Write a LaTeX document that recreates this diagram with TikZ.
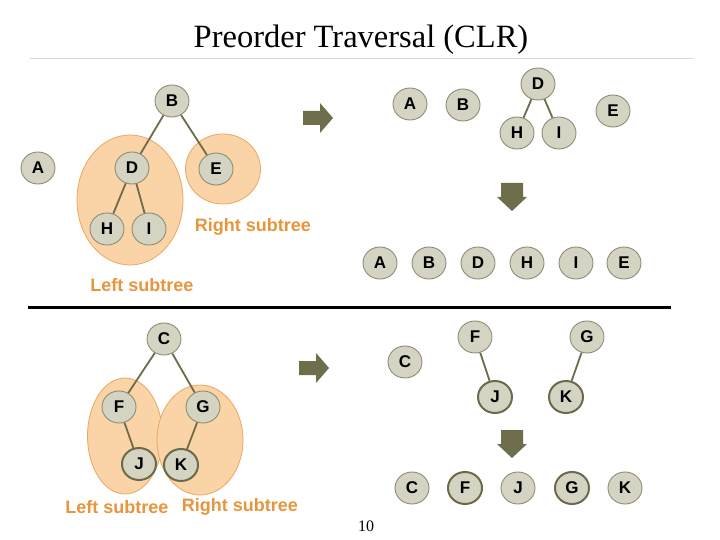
\documentclass[tikz,border=0pt]{standalone}
\usepackage{fontspec}
\setmainfont{Liberation Serif}
\newfontfamily\lblfont{Liberation Sans}
\usetikzlibrary{shapes.geometric}
\definecolor{nodefill}{HTML}{D5D4C3}
\definecolor{nodeedge}{HTML}{8C8C74}
\definecolor{thickedge}{HTML}{6B6B4C}
\definecolor{edgecol}{HTML}{6E6B4B}
\definecolor{arrowcol}{HTML}{6E6E4C}
\definecolor{subfill}{HTML}{FAD3A6}
\definecolor{subedge}{HTML}{E9A861}
\definecolor{subtext}{HTML}{E8953C}
\tikzset{
  circ/.style={ellipse, draw=nodeedge, fill=nodefill, line width=0.9pt,
    minimum width=34pt, minimum height=32pt, inner sep=0pt,
    font=\lblfont\fontsize{17}{18}\selectfont\bfseries},
  thk/.style={circ, draw=thickedge, line width=2pt},
  sub/.style={ellipse, draw=subedge, fill=subfill, line width=0.8pt, inner sep=0pt},
  sublbl/.style={text=subtext, font=\lblfont\fontsize{18}{20}\selectfont\bfseries, inner sep=0pt},
  edge/.style={draw=edgecol, line width=1.8pt},
  rarrow/.pic={\fill[arrowcol] (-15,-7) -- (2,-7) -- (2,-15) -- (15,0) -- (2,15) -- (2,7) -- (-15,7) -- cycle;},
  darrow/.pic={\fill[arrowcol] (-11,-14) -- (11,-14) -- (11,0) -- (15,0) -- (0,14) -- (-15,0) -- (-11,0) -- cycle;}
}
\begin{document}
\begin{tikzpicture}[x=1pt,y=-1pt]
\useasboundingbox[fill=white] (0,0) rectangle (720,540);
% title
\node[anchor=base, font=\fontsize{32.5}{36}\selectfont, inner sep=0pt] (title) at (361,48) {Preorder Traversal (CLR)};
\draw[black!15, line width=1pt] (30,59) -- (693,59);
\draw[line width=3pt] (28,307) -- (671,307);

% ---------- top-left tree ----------
\node[sub, minimum width=106pt, minimum height=130pt] (lsubA) at (130,200) {};
\node[sub, minimum width=75pt, minimum height=70pt] (rsubA) at (223,169) {};
\node[circ] (tB) at (172,101) {B};
\node[circ] (tA) at (38,168) {A};
\node[circ] (tD) at (132,168) {D};
\node[circ] (tE) at (216,169) {E};
\node[circ] (tH) at (107,229) {H};
\node[circ] (tI) at (149,229) {I};
\draw[edge] (tB) -- (tD);
\draw[edge] (tB) -- (tE);
\draw[edge] (tD) -- (tH);
\draw[edge] (tD) -- (tI);
\node[sublbl] (rlblA) at (253,227) {Right subtree};
\node[sublbl] (llblA) at (142,285) {Left subtree};

\pic at (318,118) {rarrow};

% ---------- top-right ----------
\node[circ] (uA) at (410,104) {A};
\node[circ] (uB) at (463,105) {B};
\node[circ] (uD) at (538,84) {D};
\node[circ] (uH) at (517,133) {H};
\node[circ] (uI) at (559,133) {I};
\node[circ] (uE) at (613,111) {E};
\draw[edge] (uD) -- (uH);
\draw[edge] (uD) -- (uI);

\pic at (512,197) {darrow};

\node[circ] (vA) at (380,263) {A};
\node[circ] (vB) at (429,263) {B};
\node[circ] (vD) at (478,263) {D};
\node[circ] (vH) at (527,263) {H};
\node[circ] (vI) at (576,263) {I};
\node[circ] (vE) at (624,263) {E};

% ---------- bottom-left tree ----------
\node[sub, minimum width=75pt, minimum height=116pt] (lsubB) at (125,436) {};
\node[sub, minimum width=86pt, minimum height=110pt] (rsubB) at (200,440) {};
\node[circ] (bC) at (164,339) {C};
\node[circ] (bF) at (119,407) {F};
\node[circ] (bG) at (203,407) {G};
\node[thk] (bJ) at (139,464) {J};
\node[thk] (bK) at (181,465) {K};
\draw[edge] (bC) -- (bF);
\draw[edge] (bC) -- (bG);
\draw[edge] (bF) -- (bJ);
\draw[edge] (bG) -- (bK);
\node[sublbl] (llblB) at (117,507) {Left subtree};
\node[sublbl] (rlblB) at (240,507) {Right subtree};

\pic at (314,368) {rarrow};

% ---------- bottom-right ----------
\node[circ] (cC) at (405,362) {C};
\node[circ] (cF) at (475,337) {F};
\node[circ] (cG) at (587,337) {G};
\node[thk] (cJ) at (495,397) {J};
\node[thk] (cK) at (566,397) {K};
\draw[edge] (cF) -- (cJ);
\draw[edge] (cG) -- (cK);

\pic at (512,444) {darrow};

\node[circ] (dC) at (412,488) {C};
\node[thk] (dF) at (465,488) {F};
\node[circ] (dJ) at (518,488) {J};
\node[thk] (dG) at (572,488) {G};
\node[circ] (dK) at (625,488) {K};

\node[font=\fontsize{16}{18}\selectfont, inner sep=0pt] (pg) at (366,526) {10};
\end{tikzpicture}
\end{document}
